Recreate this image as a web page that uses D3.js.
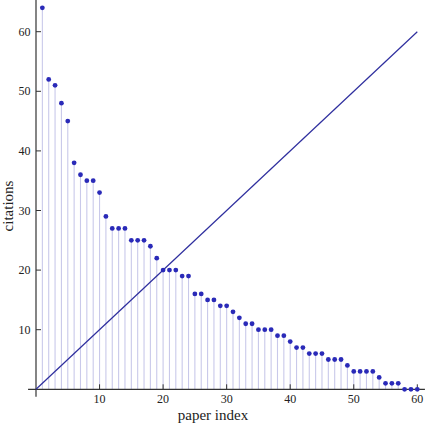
<!DOCTYPE html>
<html>
<head>
<meta charset="utf-8">
<script src="https://cdn.jsdelivr.net/npm/d3@7"></script>
<style>
  body { margin: 0; background: #fff; }
</style>
</head>
<body>
<div id="chart"></div>
<script>
// citations per paper, sorted descending (paper index 1..60)
const paperIndex = d3.range(1, 61);
const citations = [64, 52, 51, 48, 45, 38, 36, 35, 35, 33,
  29, 27, 27, 27, 25, 25, 25, 24, 22, 20,
  20, 20, 19, 19, 16, 16, 15, 15, 14, 14,
  13, 12, 11, 11, 10, 10, 10, 9, 9, 8,
  7, 7, 6, 6, 6, 5, 5, 5, 4, 3,
  3, 3, 3, 2, 1, 1, 1, 0, 0, 0];
const xTicks = [10, 20, 30, 40, 50, 60];
const yTicks = [10, 20, 30, 40, 50, 60];
const diagonal = [[0, 0], [60, 60]];

const data = paperIndex.map((p, i) => ({p, c: citations[i]}));

const W = 427, H = 425;
const svg = d3.select("#chart").append("svg").attr("width", W).attr("height", H)
  .attr("font-family", "'Liberation Serif', 'Times New Roman', Times, serif");

const x = d3.scaleLinear().domain([0, 60]).range([36, 417.3]);
const y = d3.scaleLinear().domain([0, 60]).range([389.3, 31.7]);

// stems
svg.append("g").selectAll("line").data(data).join("line")
  .attr("x1", d => x(d.p)).attr("x2", d => x(d.p))
  .attr("y1", y(0)).attr("y2", d => y(d.c))
  .attr("stroke", "#c9c9ea").attr("stroke-width", 1.1);

// axes (crossing at origin, ticks inward)
const axisCol = "#333";
svg.append("line")
  .attr("x1", x(-1.25)).attr("x2", x(61.2))
  .attr("y1", y(0)).attr("y2", y(0))
  .attr("stroke", axisCol).attr("stroke-width", 1.2);
svg.append("line")
  .attr("x1", x(0)).attr("x2", x(0))
  .attr("y1", y(-1.25)).attr("y2", y(65.5))
  .attr("stroke", axisCol).attr("stroke-width", 1.2);

svg.append("g").selectAll("line").data(xTicks).join("line")
  .attr("x1", d => x(d)).attr("x2", d => x(d))
  .attr("y1", y(0)).attr("y2", y(0) - 5)
  .attr("stroke", axisCol);
svg.append("g").selectAll("text").data(xTicks).join("text")
  .attr("x", d => x(d)).attr("y", y(0) + 14)
  .attr("text-anchor", "middle").attr("fill", "#222").style("font-size", "12px")
  .text(d => d);

svg.append("g").selectAll("line").data(yTicks).join("line")
  .attr("x1", x(0)).attr("x2", x(0) + 5)
  .attr("y1", d => y(d)).attr("y2", d => y(d))
  .attr("stroke", axisCol);
svg.append("g").selectAll("text").data(yTicks).join("text")
  .attr("x", x(0) - 5.5).attr("y", d => y(d) + 4)
  .attr("text-anchor", "end").attr("fill", "#222").style("font-size", "12px")
  .text(d => d);

// y = x reference line
svg.append("path")
  .attr("d", d3.line().x(d => x(d[0])).y(d => y(d[1]))(diagonal))
  .attr("fill", "none").attr("stroke", "#2e2e9e").attr("stroke-width", 1.2);

// points
svg.append("g").selectAll("circle").data(data).join("circle")
  .attr("cx", d => x(d.p)).attr("cy", d => y(d.c)).attr("r", 2.4)
  .attr("fill", "#2a2ab8");

// axis labels
svg.append("text").attr("x", 213).attr("y", 419.5).attr("fill", "#222")
  .attr("text-anchor", "middle").style("font-size", "15px").text("paper index");
svg.append("text").attr("transform", "translate(13.3,206) rotate(-90)").attr("fill", "#222")
  .attr("text-anchor", "middle").style("font-size", "15px").text("citations");
</script>
</body>
</html>
